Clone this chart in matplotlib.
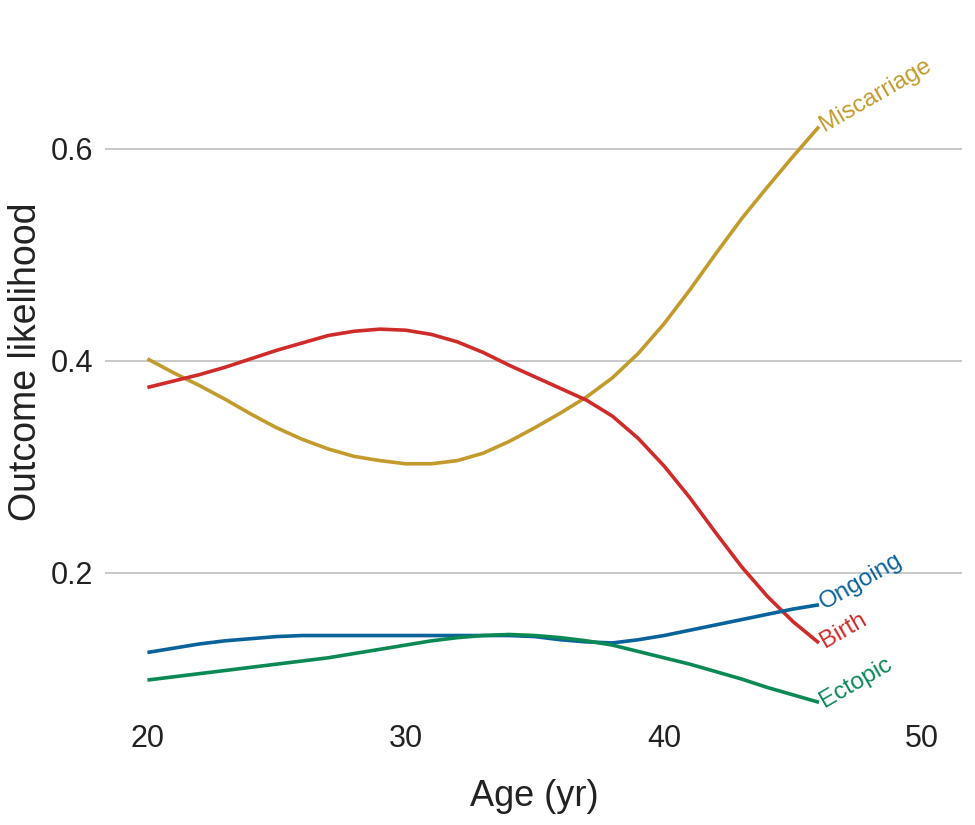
import matplotlib
matplotlib.use("Agg")
import matplotlib.pyplot as plt

# age axis (yr) and smoothed outcome likelihoods
ages = list(range(20, 47))

miscarriage = [0.402, 0.389, 0.377, 0.364, 0.350, 0.337, 0.326, 0.317, 0.310,
               0.306, 0.303, 0.303, 0.306, 0.313, 0.324, 0.337, 0.351, 0.366,
               0.384, 0.407, 0.435, 0.467, 0.501, 0.534, 0.564, 0.593, 0.621]
birth = [0.375, 0.381, 0.387, 0.394, 0.402, 0.410, 0.417, 0.424, 0.428,
         0.430, 0.429, 0.425, 0.418, 0.408, 0.396, 0.385, 0.374, 0.363,
         0.348, 0.327, 0.301, 0.271, 0.238, 0.206, 0.178, 0.154, 0.134]
ongoing = [0.125, 0.129, 0.133, 0.136, 0.138, 0.140, 0.141, 0.141, 0.141,
           0.141, 0.141, 0.141, 0.141, 0.141, 0.141, 0.140, 0.137, 0.135,
           0.134, 0.137, 0.141, 0.146, 0.151, 0.156, 0.161, 0.166, 0.170]
ectopic = [0.099, 0.102, 0.105, 0.108, 0.111, 0.114, 0.117, 0.120, 0.124,
           0.128, 0.132, 0.136, 0.139, 0.141, 0.142, 0.141, 0.139, 0.136,
           0.132, 0.126, 0.120, 0.114, 0.107, 0.100, 0.092, 0.085, 0.078]

series_names = ["Miscarriage", "Birth", "Ongoing", "Ectopic"]
series_values = [miscarriage, birth, ongoing, ectopic]
series_colors = ["#C39B2C", "#CF2B29", "#09629A", "#0B8955"]

x_ticks = [20, 30, 40, 50]
y_ticks = [0.2, 0.4, 0.6]

plt.rcParams["font.family"] = ["Liberation Sans", "DejaVu Sans"]

fig = plt.figure(figsize=(9.75, 8.25), dpi=100)
ax = fig.add_axes([0.108, 0.132, 0.879, 0.816])

for name, vals, col in zip(series_names, series_values, series_colors):
    ax.plot(ages, vals, color=col, lw=2.6, solid_capstyle="butt",
            solid_joinstyle="round", zorder=3)
    # label at the end of each curve, tilted
    ax.annotate(name, xy=(ages[-1], vals[-1]), xytext=(2, 0),
                textcoords="offset points", color=col, fontsize=17.5,
                rotation=30, rotation_mode="anchor", ha="left", va="center")

ax.set_xlim(18.37, 51.55)
ax.set_ylim(0.065, 0.7)
ax.set_xticks(x_ticks)
ax.set_yticks(y_ticks)
ax.set_yticklabels([f"{v:.1f}" for v in y_ticks])
ax.tick_params(length=0, labelsize=22, colors="#222222")
ax.tick_params(axis="x", pad=6)
ax.tick_params(axis="y", pad=9)
ax.yaxis.grid(True, color="#c8c8c8", lw=1.4)
ax.xaxis.grid(False)
ax.set_axisbelow(True)
for s in ax.spines.values():
    s.set_visible(False)

ax.set_xlabel("Age (yr)", fontsize=26, color="#222222", labelpad=18)
ax.set_ylabel("Outcome likelihood", fontsize=27, color="#222222")
ax.yaxis.set_label_coords(-0.072, 0.526)

fig.savefig("out.png", dpi=100)
